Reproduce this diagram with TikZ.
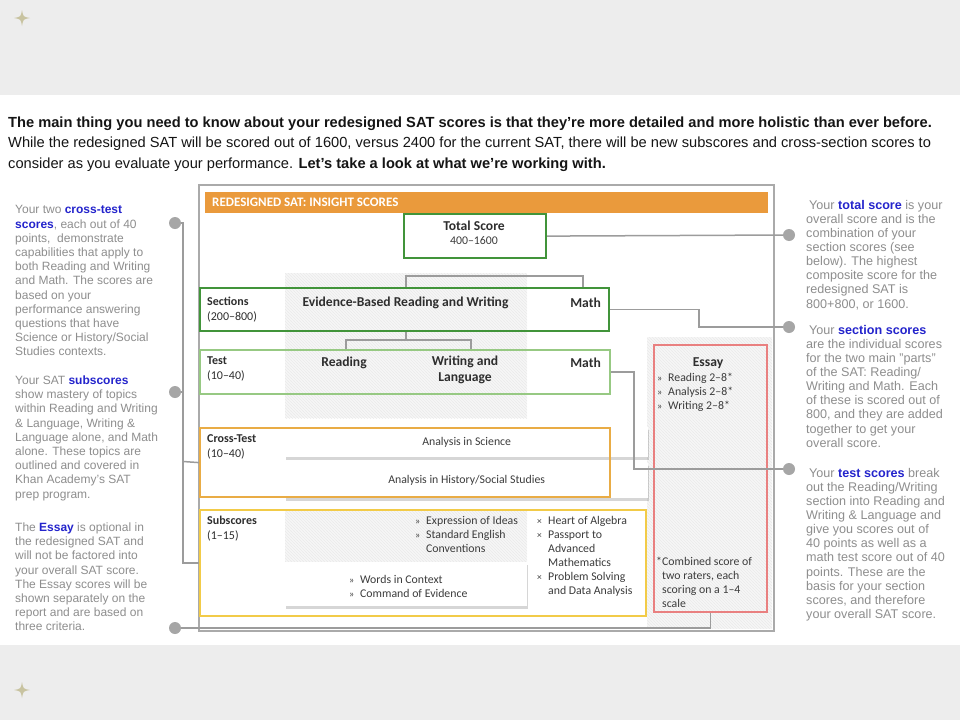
\documentclass[tikz,border=0pt]{standalone}
\usepackage{fontspec}
\setmainfont{Liberation Sans}
\newfontfamily\dfont{Carlito}
\usetikzlibrary{shadows,patterns,calc}
\definecolor{band}{HTML}{EDEDED}
\definecolor{starc}{HTML}{C8C3A0}
\definecolor{bodyc}{HTML}{151515}
\definecolor{sidec}{HTML}{8E8E8E}
\definecolor{kwc}{HTML}{2424CC}
\definecolor{framec}{HTML}{AAAAAA}
\definecolor{connc}{HTML}{9C9C9C}
\definecolor{hdrc}{HTML}{EA9A3C}
\definecolor{dkgreen}{HTML}{41943A}
\definecolor{ltgreen}{HTML}{97C983}
\definecolor{crossc}{HTML}{E9AC45}
\definecolor{subc}{HTML}{F2CB48}
\definecolor{essayc}{HTML}{E98080}
\definecolor{shadebg}{HTML}{F6F6F6}
\definecolor{hatchc}{HTML}{EBEBEB}
\definecolor{ttlc}{HTML}{2E2E2E}
\definecolor{txtc}{HTML}{3C3C3C}
\definecolor{dotc}{HTML}{A6A6A6}
\newcommand{\kw}[1]{\textcolor{kwc}{\bfseries #1}}
\newcommand{\bul}{\makebox[11pt][l]{\fontsize{10}{10}\selectfont »}}
\newcommand{\bulx}{\makebox[11pt][l]{\fontsize{9.5}{9.5}\selectfont ×}}
\begin{document}
\begin{tikzpicture}[x=1pt,y=-1pt,
  side/.style={anchor=north west, align=left, inner sep=0pt, text=sidec, font=\fontsize{12}{14.2}\selectfont},
  rside/.style={anchor=north west, align=left, inner sep=0pt, text=sidec, font=\fontsize{12.6}{14.1}\selectfont},
  conn/.style={draw=connc, line width=1.5pt},
  dot/.style={circle, fill=dotc, minimum size=12pt, inner sep=0pt},
  rowbox/.style={anchor=north west, line width=2.2pt, inner sep=0pt},
  card/.style={anchor=north west, fill=white, inner sep=0pt, text=txtc, font=\dfont\fontsize{11.8}{14}\selectfont,
     drop shadow={shadow xshift=1pt, shadow yshift=-2.5pt, opacity=0.16, fill=black}},
  shadefill/.style={fill=shadebg, postaction={pattern=north west lines, pattern color=hatchc}},
  ttl/.style={inner sep=0pt, text=ttlc, font=\dfont\bfseries\fontsize{13.6}{16}\selectfont},
  lbl/.style={anchor=north west, align=left, inner sep=0pt, text=ttlc, font=\dfont\bfseries\fontsize{12}{15}\selectfont},
  small/.style={inner sep=0pt, text=txtc, font=\dfont\fontsize{11.8}{14}\selectfont},
  list/.style={anchor=north west, align=left, inner sep=0pt, text=txtc, font=\dfont\fontsize{11.8}{14}\selectfont}
]
\useasboundingbox (0,0) rectangle (960,720);
% slide background
\fill[band] (0,0) rectangle (960,95);
\fill[white] (0,95) rectangle (960,645);
\fill[band] (0,645) rectangle (960,720);
\foreach \sy in {18,690}{
  \begin{scope}[shift={(22,\sy)}]
    \fill[starc] (0,-8) .. controls (1.2,-1.2) .. (8,0) .. controls (1.2,1.2) .. (0,8)
      .. controls (-1.2,1.2) .. (-8,0) .. controls (-1.2,-1.2) .. (0,-8) -- cycle;
  \end{scope}}
% intro text
\node[anchor=north west, align=left, inner sep=0pt, text=bodyc, font=\fontsize{14.65}{20.5}\selectfont] (intro) at (8,116.5)
 {\textbf{The main thing you need to know about your redesigned SAT scores is that they’re more detailed and more holistic than ever before.}\\
  While the redesigned SAT will be scored out of 1600, versus 2400 for the current SAT, there will be new subscores and cross-section scores to\\
  consider as you evaluate your performance. \textbf{Let’s take a look at what we’re working with.}};
% main frame
\node[anchor=north west, draw=framec, line width=2pt, inner sep=0pt, minimum width=575pt, minimum height=445.5pt] (frame) at (198,184) {};
\node[anchor=north west, fill=hdrc, inner sep=0pt, minimum width=563pt, minimum height=21pt] (hdr) at (205,192) {};
\node[anchor=west, inner sep=0pt, text=white, font=\dfont\bfseries\fontsize{13}{14}\selectfont] (hdrtxt) at (212,202.5) {REDESIGNED SAT: INSIGHT SCORES};
% shaded zones
\fill[shadefill] (285,273) rectangle (527,418);
\fill[shadefill] (285,510) rectangle (527,562);
\fill[shadefill] (647,337) rectangle (772,628.5);
% cards
\node[card, minimum width=363pt, minimum height=30pt] (sci) at (285,427) {Analysis in Science};
\node[card, minimum width=363pt, minimum height=35pt] (hist) at (285,463) {Analysis in History/Social Studies};
\node[card, minimum width=242pt, minimum height=44pt] (wcard) at (285,562) {};
% row boxes
\node[rowbox, draw=dkgreen, minimum width=409pt, minimum height=43pt] (secbox) at (199,287) {};
\node[rowbox, draw=ltgreen, minimum width=410pt, minimum height=44pt] (testbox) at (199,349) {};
\node[rowbox, draw=crossc, minimum width=410pt, minimum height=69pt] (crossbox) at (199,427) {};
\node[rowbox, draw=subc, minimum width=446pt, minimum height=106pt] (subbox) at (199,509) {};
\node[rowbox, draw=dkgreen, fill=white, minimum width=142pt, minimum height=44pt] (tot) at (403,213) {};
\node[rowbox, draw=essayc, minimum width=113pt, minimum height=267pt] (essay) at (653,344) {};
% texts in diagram
\node[ttl] (tottl) at (474,226) {Total Score};
\node[small] (totr) at (474,241) {400–1600};
\node[lbl] (seclbl) at (207,296.5) {Sections\\\textmd{(200–800)}};
\node[lbl] (testlbl) at (207,356.5) {Test\\\textmd{(10–40)}};
\node[lbl] (crosslbl) at (207,434.5) {Cross-Test\\\textmd{(10–40)}};
\node[lbl] (sublbl) at (207,515.5) {Subscores\\\textmd{(1–15)}};
\node[ttl] (ebrw) at (405.5,302.5) {Evidence-Based Reading and Writing};
\node[ttl, anchor=east] (maths) at (601,302.5) {Math};
\node[ttl] (read) at (344,362.5) {Reading};
\node[ttl, align=center] (wl) at (465,370) {Writing and\\Language};
\node[ttl, anchor=east] (matht) at (601,363) {Math};
\node[list] (ela) at (415,516.5) {\bul Expression of Ideas\\\bul Standard English\\\hspace*{11pt}Conventions};
\node[list] (wic) at (349,575.5) {\bul Words in Context\\\bul Command of Evidence};
\node[list] (mth) at (537,516.5) {\bulx Heart of Algebra\\\bulx Passport to\\\hspace*{11pt}Advanced\\\hspace*{11pt}Mathematics\\\bulx Problem Solving\\\hspace*{11pt}and Data Analysis};
\node[ttl] (esst) at (708,363) {Essay};
\node[list] (essl) at (657,372.5) {\bul Reading 2–8*\\\bul Analysis 2–8*\\\bul Writing 2–8*};
\node[list] (comb) at (656,556.5) {\makebox[6pt][l]{*}Combined score of\\\hspace*{6pt}two raters, each\\\hspace*{6pt}scoring on a 1–4\\\hspace*{6pt}scale};
% tree lines
\coordinate (t1) at (406,276);
\coordinate (t2) at (583,276);
\draw[conn] (t1 |- secbox.north) -- (t1) -- (t2) -- (t2 |- secbox.north);
\coordinate (u0) at (406,340);
\coordinate (u1) at (346,340);
\coordinate (u2) at (471,340);
\draw[conn] (u0 |- secbox.south) -- (u0);
\draw[conn] (u1 |- testbox.north) -- (u1) -- (u2) -- (u2 |- testbox.north);
% dots
\node[dot] (dL1) at (175,223) {};
\node[dot] (dL2) at (175,392) {};
\node[dot] (dL3) at (175,628) {};
\node[dot] (dR1) at (789,235) {};
\node[dot] (dR2) at (789,327) {};
\node[dot] (dR3) at (789,469) {};
% connectors
\coordinate (v1) at (183,223);
\coordinate (v2) at (183,392);
\coordinate (v3) at (183,461.5);
\draw[conn] (dL1) -- (v1) |- (subbox.west);
\draw[conn] (dL2) -- (v2);
\draw[conn] (v3) -- (crossbox.west);
\draw[conn] (essay.south) |- (dL3);
\draw[conn] (tot.east) -- (dR1);
\coordinate (e1) at (699,327);
\draw[conn] (secbox.east) -| (e1) -- (dR2);
\coordinate (e2) at (634,469);
\draw[conn] (testbox.east) -| (e2) -- (dR3);
% side texts
\node[side] (lt1) at (15,205.5) {Your two \kw{cross-test}\\\kw{scores}, each out of 40\\points,\ \ demonstrate\\capabilities that apply to\\both Reading and Writing\\and Math. The scores are\\based on your\\performance answering\\questions that have\\Science or History/Social\\Studies contexts.};
\node[side] (lt2) at (15,375.5) {Your SAT \kw{subscores}\\show mastery of topics\\within Reading and Writing\\\& Language, Writing \&\\Language alone, and Math\\alone. These topics are\\outlined and covered in\\Khan Academy’s SAT\\prep program.};
\node[side] (lt3) at (15,522.5) {The \kw{Essay} is optional in\\the redesigned SAT and\\will not be factored into\\your overall SAT score.\\The Essay scores will be\\shown separately on the\\report and are based on\\three criteria.};
\node[rside] (rt1) at (806,200) {\hspace*{3pt}Your \kw{total score} is your\\overall score and is the\\combination of your\\section scores (see\\below). The highest\\composite score for the\\redesigned SAT is\\800+800, or 1600.};
\node[rside] (rt2) at (806,325) {\hspace*{3pt}Your \kw{section scores}\\are the individual scores\\for the two main "parts"\\of the SAT: Reading/\\Writing and Math. Each\\of these is scored out of\\800, and they are added\\together to get your\\overall score.};
\node[rside] (rt3) at (806,468) {\hspace*{3pt}Your \kw{test scores} break\\out the Reading/Writing\\section into Reading and\\Writing \& Language and\\give you scores out of\\40 points as well as a\\math test score out of 40\\points. These are the\\basis for your section\\scores, and therefore\\your overall SAT score.};
\end{tikzpicture}
\end{document}
